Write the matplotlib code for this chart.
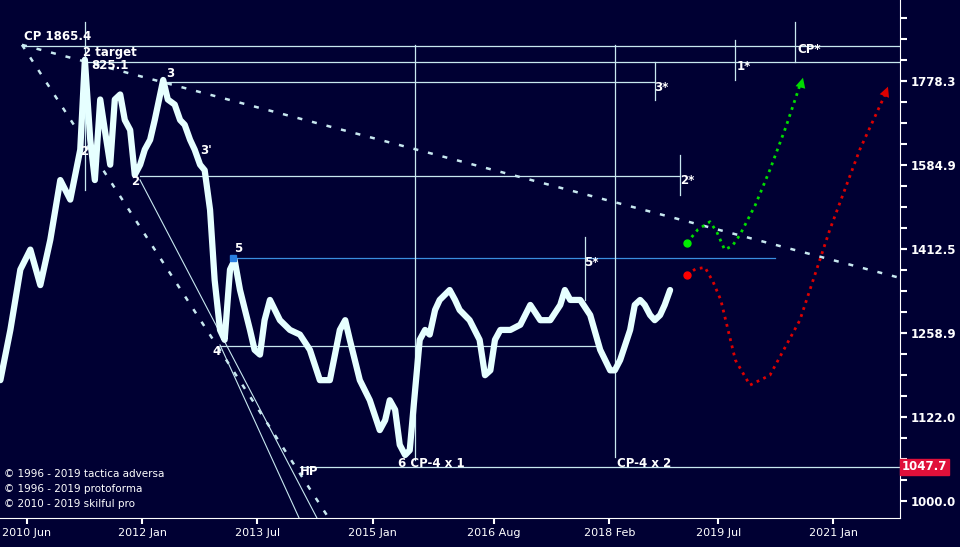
import matplotlib
matplotlib.use("Agg")
import matplotlib.pyplot as plt
import numpy as np

years = [2010.07,2010.20,2010.33,2010.46,2010.59,2010.72,2010.85,2010.98,2011.11,2011.17,2011.24,2011.30,2011.37,2011.43,2011.50,2011.56,2011.63,2011.69,2011.76,2011.82,2011.89,2011.95,2012.02,2012.08,2012.19,2012.25,2012.34,2012.41,2012.47,2012.54,2012.60,2012.67,2012.73,2012.80,2012.86,2012.93,2012.99,2013.06,2013.12,2013.19,2013.32,2013.38,2013.45,2013.51,2013.58,2013.71,2013.84,2013.97,2014.10,2014.23,2014.36,2014.49,2014.56,2014.62,2014.75,2014.88,2015.01,2015.08,2015.14,2015.21,2015.27,2015.34,2015.40,2015.47,2015.53,2015.60,2015.66,2015.73,2015.79,2015.92,2015.99,2016.05,2016.18,2016.31,2016.38,2016.45,2016.51,2016.58,2016.71,2016.84,2016.97,2017.10,2017.23,2017.36,2017.42,2017.49,2017.62,2017.75,2017.88,2018.01,2018.07,2018.14,2018.27,2018.33,2018.40,2018.46,2018.53,2018.59,2018.66,2018.72,2018.79]
prices = [1180,1264,1373,1411,1344,1430,1552,1511,1618,1830,1640,1552,1733,1662,1585,1733,1745,1685,1662,1563,1585,1618,1640,1685,1780,1733,1721,1685,1674,1640,1618,1585,1573,1490,1353,1264,1247,1373,1391,1335,1264,1230,1222,1281,1317,1281,1264,1256,1230,1180,1180,1264,1281,1247,1180,1148,1102,1117,1148,1133,1080,1065,1072,1164,1247,1264,1256,1299,1317,1335,1317,1299,1281,1247,1188,1196,1247,1264,1264,1273,1308,1281,1281,1308,1335,1317,1317,1290,1230,1196,1196,1213,1264,1308,1317,1308,1290,1281,1290,1308,1335]

green_years = [2019.01,2019.15,2019.31,2019.40,2019.50,2019.60,2019.70,2019.90,2020.09,2020.30,2020.48]
green_prices = [1424,1450,1466,1445,1411,1418,1440,1500,1574,1670,1767]
red_years = [2019.01,2019.12,2019.245,2019.35,2019.45,2019.64,2019.83,2020.09,2020.48,2020.87,2021.26,2021.59]
red_prices = [1363,1374,1377,1350,1317,1213,1172,1188,1281,1450,1618,1745]

levels = {"cp": 1865.4, "target": 1825.1, "l3": 1775, "l2": 1561, "l5": 1395, "l4": 1236, "low": 1047.7}
ytick_vals = [1000.0, 1122.0, 1258.9, 1412.5, 1584.9, 1778.3]
xtick_years = [2010.417, 2011.917, 2013.417, 2014.917, 2016.5, 2018.0, 2019.417, 2020.917]
xtick_labels = ["2010 Jun", "2012 Jan", "2013 Jul", "2015 Jan", "2016 Aug", "2018 Feb", "2019 Jul", "2021 Jan"]

BG = "#000033"
W = 960; H = 547
fig = plt.figure(figsize=(9.6, 5.47), dpi=100, facecolor=BG)
ax = fig.add_axes([0, 29/547, 900/960, 518/547], facecolor=BG)
ax.set_yscale("log")
x0, x1 = 2010.065, 2010.065 + 900/76.8
y0, y1 = 977.0, 1986.0
ax.set_xlim(x0, x1); ax.set_ylim(y0, y1)

def px(x):
    return x0 + x/76.8
def py(y):
    return 10**(3 + (501-y)*0.000595)

lc = "#c8e8f0"
def hl(p, xa, xb, c=lc, lw=0.9):
    ax.plot([px(xa), px(xb)], [p, p], color=c, lw=lw)
def vl(x, ya, yb, c=lc, lw=0.9):
    ax.plot([px(x), px(x)], [py(ya), py(yb)], color=c, lw=lw)

hl(levels["cp"], 22, 900)
hl(levels["target"], 85, 900)
hl(levels["l3"], 165, 655)
hl(levels["l2"], 140, 680)
hl(levels["l5"], 235, 775, c="#3a8ee0")
hl(levels["l4"], 220, 600)
hl(levels["low"], 300, 900)
vl(415, 45, 460); vl(615, 45, 457); vl(735, 40, 80); vl(795, 22, 62); vl(85, 22, 190)
vl(655, 62, 100); vl(680, 155, 195); vl(585, 237, 300)

# trend lines
ax.plot([px(22), px(900)], [py(45), py(278)], color=lc, lw=1.8, ls=(0, (2, 4)))
ax.plot([px(22), px(330)], [py(45), py(520)], color=lc, lw=1.8, ls=(0, (2, 4)))
ax.plot([px(140), px(318)], [py(180), py(520)], color=lc, lw=0.8)
ax.plot([px(220), px(300)], [py(345), py(520)], color=lc, lw=0.8)

ax.plot(years, prices, color="#8a8f95", lw=1.0, alpha=0.8)
ax.plot(years, prices, color="#e6ffff", lw=4.5, solid_joinstyle="round", solid_capstyle="round")

ax.plot(green_years, green_prices, color="#00dd00", lw=2, ls=":")
ax.plot(green_years[0], green_prices[0], "o", color="#00ee00", ms=5)
ax.annotate("", xy=(green_years[-1]+0.05, green_prices[-1]+25), xytext=(green_years[-2]+0.05, green_prices[-2]),
            arrowprops=dict(arrowstyle="-|>", color="#00dd00", lw=0, mutation_scale=18))
ax.plot(red_years, red_prices, color="#dd0000", lw=2, ls=":")
ax.plot(red_years[0], red_prices[0], "o", color="#ff0000", ms=5)
ax.annotate("", xy=(red_years[-1]+0.05, red_prices[-1]+25), xytext=(red_years[-2]+0.05, red_prices[-2]),
            arrowprops=dict(arrowstyle="-|>", color="#dd0000", lw=0, mutation_scale=18))

def t(x, y, s, **kw):
    ax.text(px(x), py(y), s, color="white", fontsize=8.5, fontweight="bold", va="center", **kw)
t(24, 37, "CP 1865.4")
t(83, 53, "2 target")
t(91, 66, "825.1")
t(166, 74, "3")
t(200, 151, "3'")
t(80, 152, "2")
t(131, 182, "2")
t(234, 249, "5")
t(212, 352, "4")
t(584, 263, "5*")
t(654, 88, "3*")
t(680, 181, "2*")
t(737, 67, "1*")
t(797, 50, "CP*")
t(300, 472, "HP")
t(398, 464, "6 CP-4 x 1")
t(617, 464, "CP-4 x 2")
ax.plot(px(233), py(258), "s", color="#2a7fe0", ms=4)
for i, s in enumerate(["© 1996 - 2019 tactica adversa", "© 1996 - 2019 protoforma", "© 2010 - 2019 skilful pro"]):
    ax.text(px(4), py(474 + i*15), s, color="white", fontsize=7.5, va="center")

# axes styling
for sp in ["top", "left"]:
    ax.spines[sp].set_visible(False)
ax.spines["right"].set_color("white"); ax.spines["bottom"].set_color("white")
ax.yaxis.tick_right()
ax.set_yticks(ytick_vals)
ax.set_yticklabels([f"{v:.1f}" for v in ytick_vals], color="white", fontsize=8.5, fontweight="bold")
ax.yaxis.set_minor_locator(matplotlib.ticker.FixedLocator(
    [10**(3 + k*0.0125) for k in range(-1, 25)]))
ax.yaxis.set_minor_formatter(matplotlib.ticker.NullFormatter())
ax.tick_params(axis="y", which="both", colors="white", length=5, width=1.5, pad=3)
ax.set_xticks(xtick_years)
ax.set_xticklabels(xtick_labels, color="white", fontsize=8)
ax.tick_params(axis="x", colors="white", length=4, width=1.5)
ax.text(1.002, np.log10(levels["low"]/y0)/np.log10(y1/y0), "1047.7", transform=ax.transAxes,
        color="white", fontsize=8.5, fontweight="bold", va="center",
        bbox=dict(boxstyle="square,pad=0.15", fc="#e0103a", ec="#e0103a"))
fig.savefig("out.png", dpi=100, facecolor=BG)
